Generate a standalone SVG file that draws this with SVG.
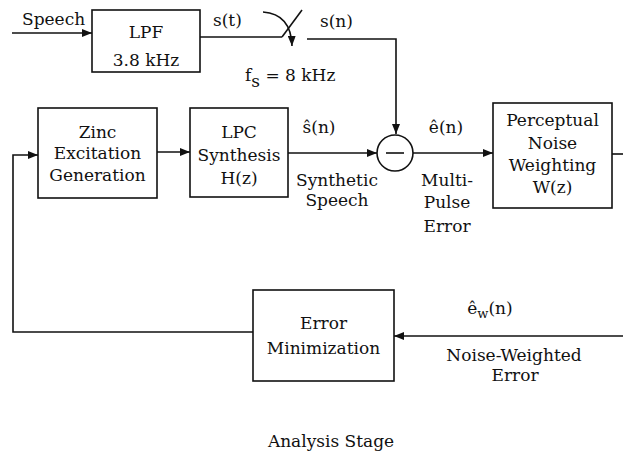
<svg xmlns="http://www.w3.org/2000/svg" width="623" height="455" viewBox="0 0 623 455">
  <style>
    text { font-family: "DejaVu Serif", "Liberation Serif", serif; font-size: 17px; fill: #111; }
    .c { text-anchor: middle; }
    .box { fill: #fff; stroke: #111; stroke-width: 1.6; }
    .wire { fill: none; stroke: #111; stroke-width: 1.6; }
  </style>
  <defs>
    <marker id="arrow" viewBox="0 0 10 8" refX="10" refY="4" markerWidth="10" markerHeight="8" markerUnits="userSpaceOnUse" orient="auto">
      <path d="M0,0 L10,4 L0,8 Z" fill="#111"/>
    </marker>
  </defs>
  <rect width="623" height="455" fill="#fff"/>

  <!-- signal paths -->
  <g id="connectors">
    <line class="wire" x1="12" y1="33" x2="92" y2="33" marker-end="url(#arrow)"/>
    <line class="wire" x1="200" y1="37" x2="282" y2="37"/>
    <line class="wire" x1="282" y1="37" x2="302" y2="10"/>
    <path class="wire" d="M263,12 Q291,14 292,46" marker-end="url(#arrow)"/>
    <polyline class="wire" points="307,39 396,39 396,134" marker-end="url(#arrow)"/>
    <line class="wire" x1="157" y1="152" x2="190" y2="152" marker-end="url(#arrow)"/>
    <line class="wire" x1="288" y1="153" x2="377" y2="153" marker-end="url(#arrow)"/>
    <line class="wire" x1="413" y1="153" x2="493" y2="153" marker-end="url(#arrow)"/>
    <line class="wire" x1="612" y1="154" x2="623" y2="154"/>
    <line class="wire" x1="623" y1="336" x2="394" y2="336" marker-end="url(#arrow)"/>
    <polyline class="wire" points="253,332 13,332 13,155 38,155" marker-end="url(#arrow)"/>
  </g>

  <g id="lpf">
    <rect class="box" x="92" y="10" width="108" height="62"/>
    <text class="c" x="146" y="38">LPF</text>
    <text class="c" x="146" y="66">3.8 kHz</text>
  </g>

  <g id="zinc">
    <rect class="box" x="38" y="108" width="119" height="90"/>
    <text class="c" x="97.5" y="138">Zinc</text>
    <text class="c" x="97.5" y="159">Excitation</text>
    <text class="c" x="97.5" y="181">Generation</text>
  </g>

  <g id="lpc">
    <rect class="box" x="190" y="108" width="98" height="89"/>
    <text class="c" x="239" y="138">LPC</text>
    <text class="c" x="239" y="161">Synthesis</text>
    <text class="c" x="239" y="184">H(z)</text>
  </g>

  <g id="subtractor">
    <circle class="box" cx="395" cy="153" r="18"/>
    <line class="wire" x1="386" y1="153" x2="404" y2="153"/>
  </g>

  <g id="weighting">
    <rect class="box" x="493" y="103" width="119" height="105"/>
    <text class="c" x="552.5" y="126">Perceptual</text>
    <text class="c" x="552.5" y="149">Noise</text>
    <text class="c" x="552.5" y="171">Weighting</text>
    <text class="c" x="552.5" y="193">W(z)</text>
  </g>

  <g id="minimization">
    <rect class="box" x="253" y="290" width="141" height="91"/>
    <text class="c" x="323.5" y="329">Error</text>
    <text class="c" x="323.5" y="354">Minimization</text>
  </g>

  <!-- signal labels -->
  <g id="labels">
    <text x="22" y="25">Speech</text>
    <text x="213" y="26">s(t)</text>
    <text x="320" y="27">s(n)</text>
    <text x="245" y="81">f<tspan dy="6">s</tspan><tspan dy="-6"> = 8 kHz</tspan></text>
    <text class="c" x="319" y="133">ŝ(n)</text>
    <text class="c" x="446" y="133">ê(n)</text>
    <text class="c" x="337" y="186">Synthetic</text>
    <text class="c" x="337" y="206">Speech</text>
    <text class="c" x="447" y="186">Multi-</text>
    <text class="c" x="447" y="208">Pulse</text>
    <text class="c" x="447" y="232">Error</text>
    <text class="c" x="490" y="314">ê<tspan dy="4" font-size="13">w</tspan><tspan dy="-4">(n)</tspan></text>
    <text class="c" x="514" y="361">Noise-Weighted</text>
    <text class="c" x="515" y="381">Error</text>
    <text class="c" x="331" y="447">Analysis Stage</text>
  </g>
</svg>
